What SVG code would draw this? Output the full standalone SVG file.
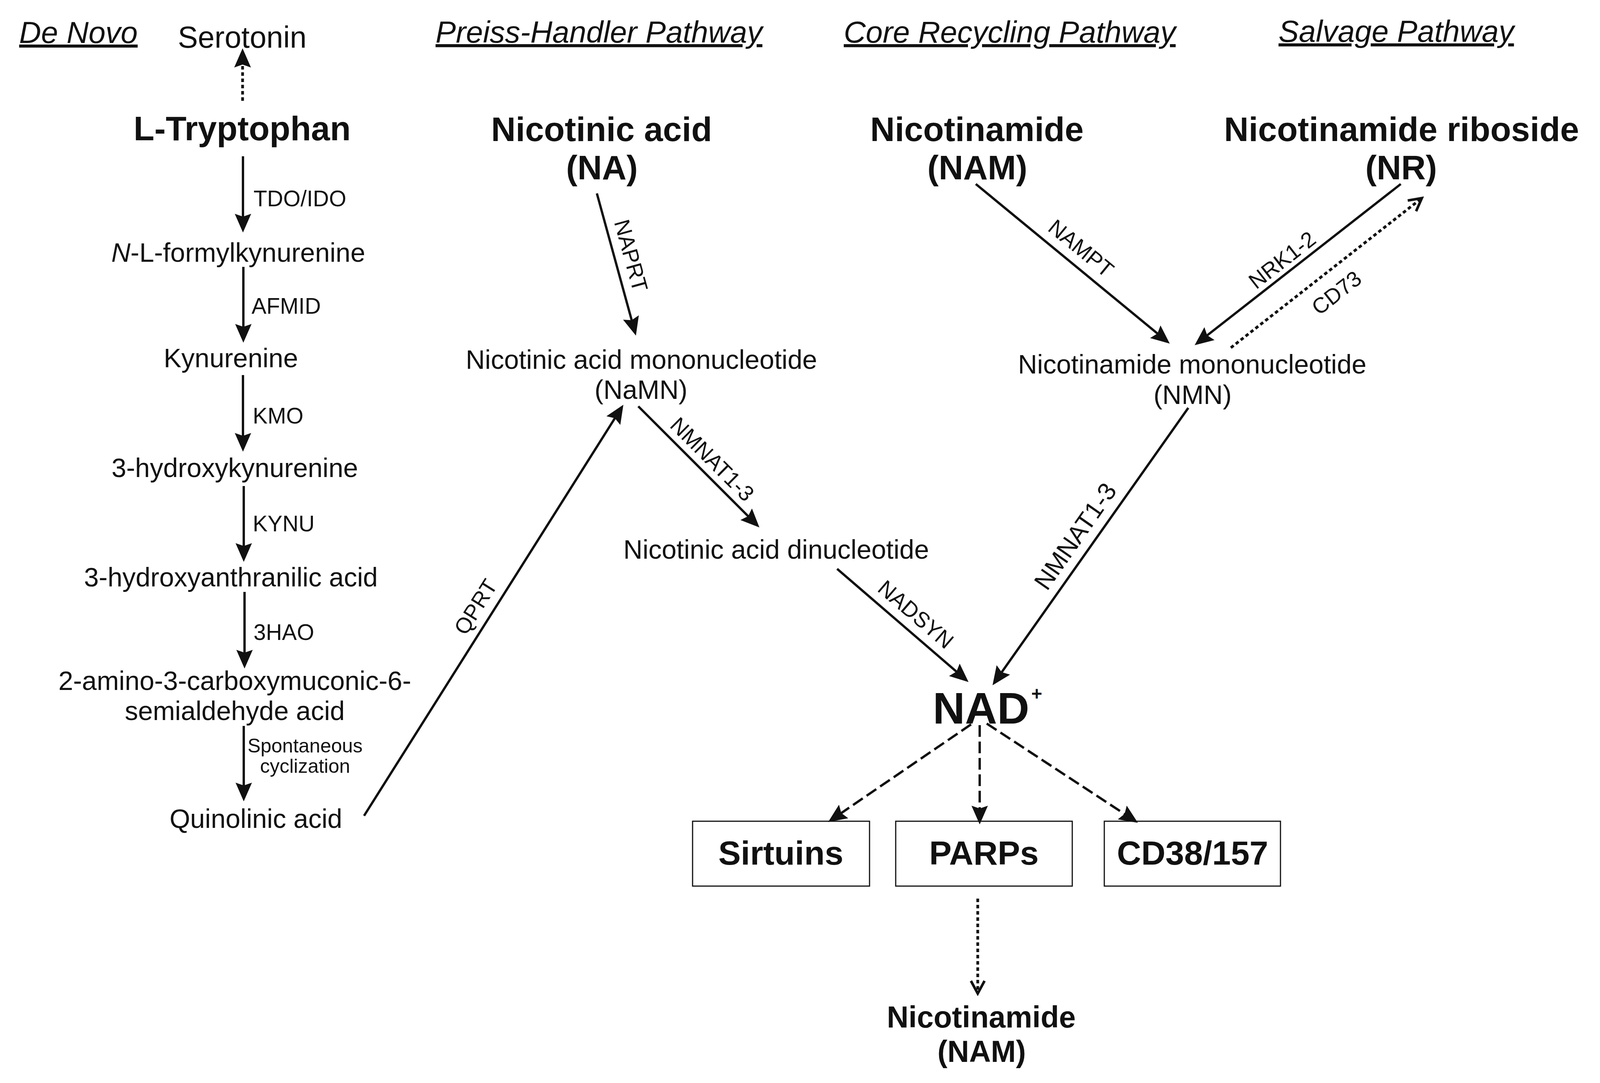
<svg xmlns="http://www.w3.org/2000/svg" width="4100" height="2772" viewBox="0 0 4100 2772">
<style>
text{font-family:"Liberation Sans",Arial,sans-serif;fill:#111}
.hdr{font-size:78px;font-style:italic;text-decoration:underline}
.cmp{font-size:68px;text-anchor:middle}
.big{font-size:87px;font-weight:bold;text-anchor:middle}
.enz{font-size:57px}
.rot{font-size:56px;text-anchor:middle}
.box{fill:#fff;stroke:#111;stroke-width:3}
.boxt{font-size:86px;font-weight:bold;text-anchor:middle}
.solid{stroke:#111;stroke-width:6;fill:none;marker-end:url(#ah)}
.dot{stroke:#111;stroke-width:7;fill:none;stroke-dasharray:9 7}
.dash{stroke:#111;stroke-width:6;fill:none;stroke-dasharray:30 12;marker-end:url(#ah)}
</style>
<defs>
<marker id="ah" viewBox="0 0 8 7" markerWidth="8" markerHeight="7" refX="6.8" refY="3.5" orient="auto" markerUnits="strokeWidth">
<path d="M0,0 L8,3.5 L0,7 L1.2,3.5 z" fill="#111" stroke="none"/>
</marker>
<marker id="ah2" viewBox="0 0 8 7" markerWidth="7" markerHeight="6.2" refX="6.8" refY="3.5" orient="auto" markerUnits="strokeWidth">
<path d="M0,0 L8,3.5 L0,7 L1.2,3.5 z" fill="#111" stroke="none"/>
</marker>
<marker id="ao" viewBox="0 0 7 7" markerWidth="6" markerHeight="6" refX="6" refY="3.5" orient="auto" markerUnits="strokeWidth">
<path d="M0.6,0.6 L6,3.5 L0.6,6.4" fill="none" stroke="#111" stroke-width="1.1" stroke-dasharray="none"/>
</marker>
</defs>
<rect width="4100" height="2772" fill="#fff"/>

<g id="headers">
<text class="hdr" x="49" y="110">De Novo</text>
<text class="hdr" x="1115" y="109">Preiss-Handler Pathway</text>
<text class="hdr" x="2160" y="109">Core Recycling Pathway</text>
<text class="hdr" x="3273" y="107">Salvage Pathway</text>
</g>

<g id="serotonin"><text x="620" y="122" style="font-size:77px;text-anchor:middle">Serotonin</text></g>
<g id="tryptophan"><text class="big" x="620" y="359">L-Tryptophan</text></g>
<g id="nfk"><text class="cmp" x="610" y="670"><tspan font-style="italic">N</tspan>-L-formylkynurenine</text></g>
<g id="kynurenine"><text class="cmp" x="591" y="940">Kynurenine</text></g>
<g id="hk"><text class="cmp" x="601" y="1221">3-hydroxykynurenine</text></g>
<g id="haa"><text class="cmp" x="591" y="1501">3-hydroxyanthranilic acid</text></g>
<g id="acms"><text class="cmp" x="601" y="1766">2-amino-3-carboxymuconic-6-</text><text class="cmp" x="601" y="1843">semialdehyde acid</text></g>
<g id="quin"><text class="cmp" x="655" y="2119">Quinolinic acid</text></g>

<g id="na"><text class="big" x="1540" y="361">Nicotinic acid</text><text class="big" x="1541" y="459">(NA)</text></g>
<g id="namn"><text class="cmp" x="1642" y="944">Nicotinic acid mononucleotide</text><text class="cmp" x="1641" y="1021">(NaMN)</text></g>
<g id="naad"><text class="cmp" x="1987" y="1430">Nicotinic acid dinucleotide</text></g>

<g id="nam"><text class="big" x="2501" y="361">Nicotinamide</text><text class="big" x="2502" y="459">(NAM)</text></g>
<g id="nr"><text class="big" x="3588" y="361">Nicotinamide riboside</text><text class="big" x="3587" y="459">(NR)</text></g>
<g id="nmn"><text class="cmp" x="3052" y="956">Nicotinamide mononucleotide</text><text class="cmp" x="3053" y="1034">(NMN)</text></g>

<g id="nad"><text x="2388" y="1852" style="font-size:114px;font-weight:bold">NAD</text><text x="2640" y="1792" style="font-size:48px;font-weight:bold">+</text></g>

<g id="sirtuins"><rect class="box" x="1773" y="2102" width="453" height="166"/><text class="boxt" x="1999" y="2213">Sirtuins</text></g>
<g id="parps"><rect class="box" x="2293" y="2102" width="452" height="166"/><text class="boxt" x="2519" y="2213">PARPs</text></g>
<g id="cd38"><rect class="box" x="2827" y="2102" width="451" height="166"/><text class="boxt" x="3053" y="2213">CD38/157</text></g>

<g id="nam2"><text x="2512" y="2630" style="font-size:77px;font-weight:bold;text-anchor:middle">Nicotinamide</text><text x="2513" y="2718" style="font-size:77px;font-weight:bold;text-anchor:middle">(NAM)</text></g>

<g id="connectors">
<line class="dot" x1="621" y1="258" x2="621" y2="131" style="marker-end:url(#ah2)"/>
<line class="solid" x1="622" y1="400" x2="622" y2="588"/>
<line class="solid" x1="623" y1="683" x2="623" y2="870"/>
<line class="solid" x1="622" y1="960" x2="622" y2="1149"/>
<line class="solid" x1="624" y1="1244" x2="624" y2="1431"/>
<line class="solid" x1="626" y1="1515" x2="626" y2="1704"/>
<line class="solid" x1="624" y1="1858" x2="624" y2="2044"/>
<line class="solid" x1="1528" y1="495" x2="1626" y2="852"/>
<line class="solid" x1="932" y1="2088" x2="1592" y2="1042"/>
<line class="solid" x1="1634" y1="1040" x2="1939" y2="1345"/>
<line class="solid" x1="2143" y1="1456" x2="2474" y2="1741"/>
<line class="solid" x1="2498" y1="471" x2="2989" y2="875"/>
<line class="solid" x1="3586" y1="471" x2="3064" y2="879"/>
<line class="dot" x1="3151" y1="890" x2="3640" y2="507" style="marker-end:url(#ao)"/>
<line class="solid" x1="3042" y1="1044" x2="2545" y2="1748"/>
<line class="dash" x1="2486" y1="1854" x2="2126" y2="2100"/>
<line class="dash" x1="2508" y1="1856" x2="2508" y2="2103"/>
<line class="dash" x1="2526" y1="1852" x2="2907" y2="2102"/>
<line class="dot" x1="2503" y1="2300" x2="2503" y2="2543" style="marker-end:url(#ao)"/>
</g>

<g id="enzymes">
<text class="enz" x="649" y="528">TDO/IDO</text>
<text class="enz" x="644" y="803">AFMID</text>
<text class="enz" x="647" y="1084">KMO</text>
<text class="enz" x="647" y="1360">KYNU</text>
<text class="enz" x="649" y="1638">3HAO</text>
<text x="781" y="1926" style="font-size:50px;text-anchor:middle">Spontaneous</text>
<text x="781" y="1978" style="font-size:50px;text-anchor:middle">cyclization</text>
<text class="rot" transform="translate(1616,654) rotate(74.6)" y="20">NAPRT</text>
<text class="rot" transform="translate(1824,1175) rotate(45)" y="20">NMNAT1-3</text>
<text class="rot" transform="translate(2345,1572) rotate(40.7)" y="20">NADSYN</text>
<text class="rot" transform="translate(1217,1553) rotate(-57.75)" y="20">QPRT</text>
<text class="rot" transform="translate(2768,635) rotate(39.45)" y="20">NAMPT</text>
<text class="rot" transform="translate(3282,665) rotate(-38)" y="20">NRK1-2</text>
<text class="rot" transform="translate(3421,749) rotate(-38.07)" y="20">CD73</text>
<text class="rot" transform="translate(2752,1372) rotate(-55.08)" y="23" style="font-size:64px">NMNAT1-3</text>
</g>
</svg>
